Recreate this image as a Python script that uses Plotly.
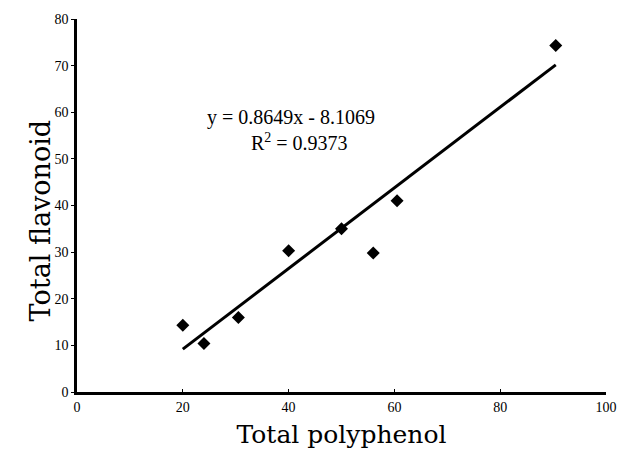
import plotly.graph_objects as go

polyphenol = [20.0, 24.0, 30.5, 40.0, 50.0, 56.0, 60.5, 90.5]
flavonoid = [14.3, 10.4, 16.0, 30.3, 35.0, 29.8, 41.0, 74.3]
slope = 0.8649
intercept = -8.1069
x_ticks = [0, 20, 40, 60, 80, 100]
y_ticks = [0, 10, 20, 30, 40, 50, 60, 70, 80]

fit_x = [min(polyphenol), max(polyphenol)]
fit_y = [slope * v + intercept for v in fit_x]

fig = go.Figure()
fig.add_trace(go.Scatter(x=fit_x, y=fit_y, mode="lines",
                         line=dict(color="black", width=3), showlegend=False))
fig.add_trace(go.Scatter(x=polyphenol, y=flavonoid, mode="markers",
                         marker=dict(symbol="diamond", size=10, color="black"),
                         showlegend=False))

fig.add_annotation(x=40.5, y=58.8, xref="x", yref="y",
                   text="y = 0.8649x - 8.1069", showarrow=False,
                   font=dict(family="Liberation Serif", size=20, color="black"))
fig.add_annotation(x=42, y=53.6, xref="x", yref="y",
                   text="R<sup>2</sup> = 0.9373", showarrow=False,
                   font=dict(family="Liberation Serif", size=20, color="black"))

# y-axis title placed as annotation for precise positioning
fig.add_annotation(x=22, y=218, xref="paper", yref="paper",
                   text="Total flavonoid", showarrow=False, textangle=-90,
                   font=dict(family="DejaVu Serif", size=27, color="black"))

fig.update_layout(
    width=629, height=461,
    margin=dict(l=77, r=12, t=13, b=69),
    paper_bgcolor="white", plot_bgcolor="white",
    font=dict(family="Liberation Serif", color="black"),
)
# convert pixel position of the y title to paper coordinates
ann = fig.layout.annotations[-1]
plot_w = 629 - 77 - 12
plot_h = 461 - 13 - 69
ann.x = (22 - 77) / plot_w
ann.y = (461 - 69 - 218) / plot_h

fig.update_xaxes(range=[0, 100], tickvals=x_ticks, showgrid=False, zeroline=False,
                 showline=True, linecolor="black", linewidth=2.5,
                 ticks="inside", ticklen=3, tickcolor="black",
                 tickfont=dict(family="Liberation Serif", size=14),
                 title=dict(text="Total polyphenol", standoff=12,
                            font=dict(family="DejaVu Serif", size=25)))
fig.update_yaxes(range=[0, 80], tickvals=y_ticks, showgrid=False, zeroline=False,
                 showline=True, linecolor="black", linewidth=2.5,
                 ticks="outside", ticklen=3, tickcolor="black",
                 tickfont=dict(family="Liberation Serif", size=14))

fig.write_html("out.html")
